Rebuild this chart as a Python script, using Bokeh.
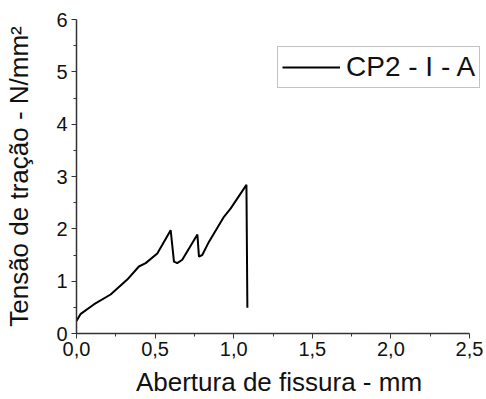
from bokeh.plotting import figure
from bokeh.models import Range1d, Legend, LegendItem, CustomJSTickFormatter, FixedTicker
from bokeh.embed import file_html
from bokeh.resources import INLINE

# Data (crack opening in mm, tensile stress in N/mm²)
abertura = [0.0, 0.025, 0.11, 0.217, 0.323, 0.397, 0.44, 0.514, 0.599, 0.62, 0.641,
            0.673, 0.769, 0.779, 0.80, 0.843, 0.938, 0.981, 1.081, 1.087]
tensao = [0.24, 0.37, 0.555, 0.745, 1.03, 1.28, 1.345, 1.53, 1.975, 1.375, 1.345,
          1.41, 1.89, 1.47, 1.50, 1.755, 2.23, 2.39, 2.84, 0.49]
serie = "CP2 - I - A"
x_ticks = [0.0, 0.5, 1.0, 1.5, 2.0, 2.5]
y_ticks = [0, 1, 2, 3, 4, 5, 6]

FONT = "Liberation Sans"

# frame: left 76 .. right 481 ; x 0..2.5 maps to 76..469
x_max = 2.5 * (481 - 76) / (469 - 76)

p = figure(width=486, height=399, output_backend="svg", toolbar_location=None,
           x_range=Range1d(0, x_max), y_range=Range1d(0, 6),
           min_border_left=76, min_border_right=5, min_border_top=19, min_border_bottom=63)
p.outline_line_color = None
p.xgrid.visible = False
p.ygrid.visible = False
p.background_fill_color = "white"
p.border_fill_color = "white"

r = p.line(abertura, tensao, line_color="black", line_width=2)

for ax in (p.xaxis[0], p.yaxis[0]):
    ax.axis_line_color = "#333333"
    ax.axis_line_width = 1.5
    ax.major_tick_line_color = "#333333"
    ax.minor_tick_line_color = "#333333"
    ax.major_tick_in = 0
    ax.major_tick_out = 5
    ax.minor_tick_in = 0
    ax.minor_tick_out = 3
    ax.major_label_text_font = FONT
    ax.major_label_text_font_size = "20px"
    ax.major_label_text_color = "#111111"
    ax.axis_label_text_font = FONT
    ax.axis_label_text_font_size = "26px"
    ax.axis_label_text_font_style = "normal"
    ax.axis_label_text_color = "#111111"

p.xaxis.bounds = (0, 2.5)
p.xaxis.ticker = FixedTicker(ticks=x_ticks, minor_ticks=[0.25 + 0.5 * i for i in range(5)])
p.yaxis.ticker = FixedTicker(ticks=y_ticks, minor_ticks=[0.5 + i for i in range(6)])
p.xaxis.formatter = CustomJSTickFormatter(code="return tick.toFixed(1).replace('.', ',');")
p.yaxis.formatter = CustomJSTickFormatter(code="return tick.toFixed(0);")
p.xaxis.axis_label = "Abertura de fissura - mm"
p.yaxis.axis_label = "Tensão de tração - N/mm²"
p.xaxis.major_label_standoff = 3
p.yaxis.major_label_standoff = 4
p.xaxis.axis_label_standoff = 8
p.yaxis.axis_label_standoff = 19

legend = Legend(items=[LegendItem(label=serie, renderers=[r])], location=(201, 245))
legend.label_text_font = FONT
legend.label_text_font_size = "28px"
legend.label_text_color = "#111111"
legend.glyph_width = 58
legend.glyph_height = 28
legend.label_standoff = 6
legend.padding = 4
legend.margin = 0
legend.border_line_color = "#888888"
legend.border_line_width = 1.5
legend.background_fill_alpha = 1
p.add_layout(legend, "center")

open("out.html", "w").write(file_html(p, INLINE))
